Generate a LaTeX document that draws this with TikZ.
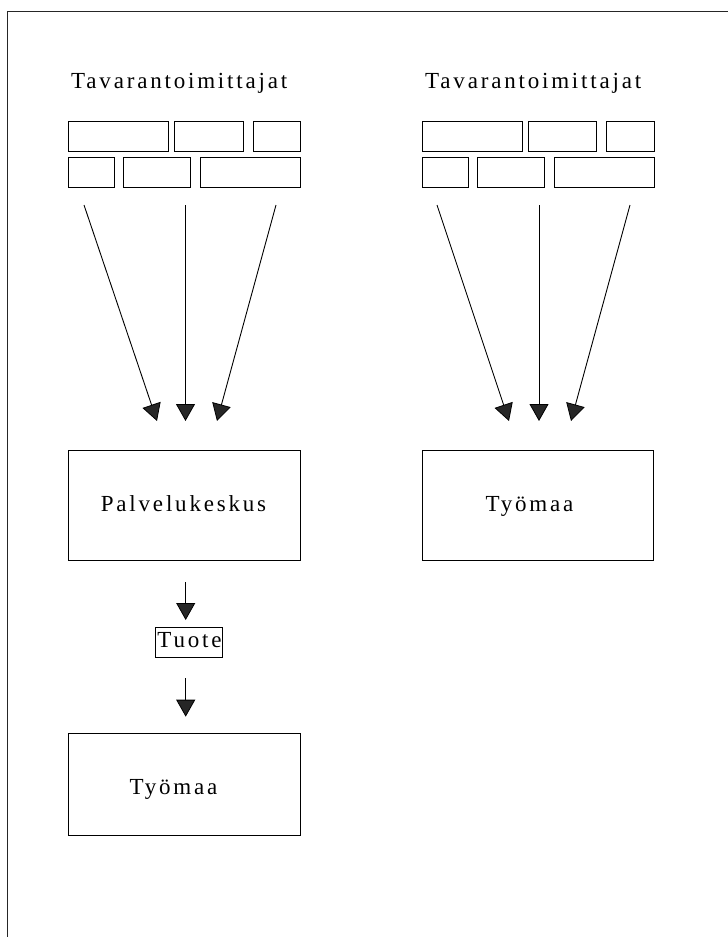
\documentclass[tikz,border=0pt]{standalone}
\usepackage{fontspec}
\setmainfont{Liberation Serif}[LetterSpace=12.2]
\usetikzlibrary{arrows.meta}
\begin{document}
\begin{tikzpicture}[x=1pt,y=-1pt,
  box/.style={draw=black, line width=1pt, inner sep=0pt},
  txt/.style={font=\fontsize{23}{25}\selectfont, inner sep=0pt, anchor=base},
  arr/.style={line width=0.9pt, -{Triangle[width=19pt,length=17pt,line width=0.8pt,fill=black!85]}},
]
\useasboundingbox (0,0) rectangle (728,937);
\clip (0,0) rectangle (728,937);
\fill[white] (0,0) rectangle (728,937);
\draw[line width=1.2pt, black!85] (7.5,11.5) rectangle (760,960);

% titles
\node[txt, anchor=base west] (tl) at (71,88) {Tavarantoimittajat};
\node[txt, anchor=base west] (tr) at (425,88) {Tavarantoimittajat};

% supplier boxes (left)
\foreach \x/\y/\w/\n in {68/121/100/a1, 174/121/68.7/a2, 252.7/121/47.3/a3,
                         68/157/46/a4, 123/157/67/a5, 200/157/100/a6} {
  \node[box, minimum width=\w, minimum height=30, anchor=north west] (L\n) at (\x,\y) {};
}
% supplier boxes (right)
\foreach \x/\y/\w/\n in {68/121/100/a1, 174/121/68.7/a2, 252.7/121/47.3/a3,
                         68/157/46/a4, 123/157/67/a5, 200/157/100/a6} {
  \node[box, minimum width=\w, minimum height=30, anchor=north west] (R\n) at (\x+353.7,\y) {};
}

% main boxes
\node[box, minimum width=231.7, minimum height=110, anchor=north west] (pk) at (68.3,450) {};
\node[box, minimum width=231.7, minimum height=110, anchor=north west] (tm1) at (421.7,450) {};
\node[box, minimum width=231.7, minimum height=101.7, anchor=north west] (tm2) at (68.3,733.3) {};
\node[box, minimum width=67, minimum height=30, anchor=north west] (tuote) at (154.7,626.7) {};

\node[txt] (pkt) at (183.5,511.7) {Palvelukeskus};
\node[txt] (tm1t) at (529.5,511.7) {Työmaa};
\node[txt] (tm2t) at (173.5,794) {Työmaa};
\node[txt] (tuotet) at (189.5,647.3) {Tuote};

% arrow coordinates
\coordinate (s1) at (84,205);
\coordinate (s2) at (185.5,205);
\coordinate (s3) at (276,205);
\coordinate (e1) at (157,421);
\coordinate (e2) at (185.5,421);
\coordinate (e3) at (217,421);
\coordinate (s4) at (437,205);
\coordinate (s5) at (539,205);
\coordinate (s6) at (630,205);
\coordinate (e4) at (509,421);
\coordinate (e5) at (539,421);
\coordinate (e6) at (571,421);
\coordinate (u1) at (185.7,582);
\coordinate (v1) at (185.7,620);
\coordinate (u2) at (185.7,678);
\coordinate (v2) at (185.7,716.7);

\draw[arr] (s1) -- (e1);
\draw[arr] (s2) -- (e2);
\draw[arr] (s3) -- (e3);
\draw[arr] (s4) -- (e4);
\draw[arr] (s5) -- (e5);
\draw[arr] (s6) -- (e6);
\draw[arr] (u1) -- (v1);
\draw[arr] (u2) -- (v2);
\end{tikzpicture}
\end{document}
